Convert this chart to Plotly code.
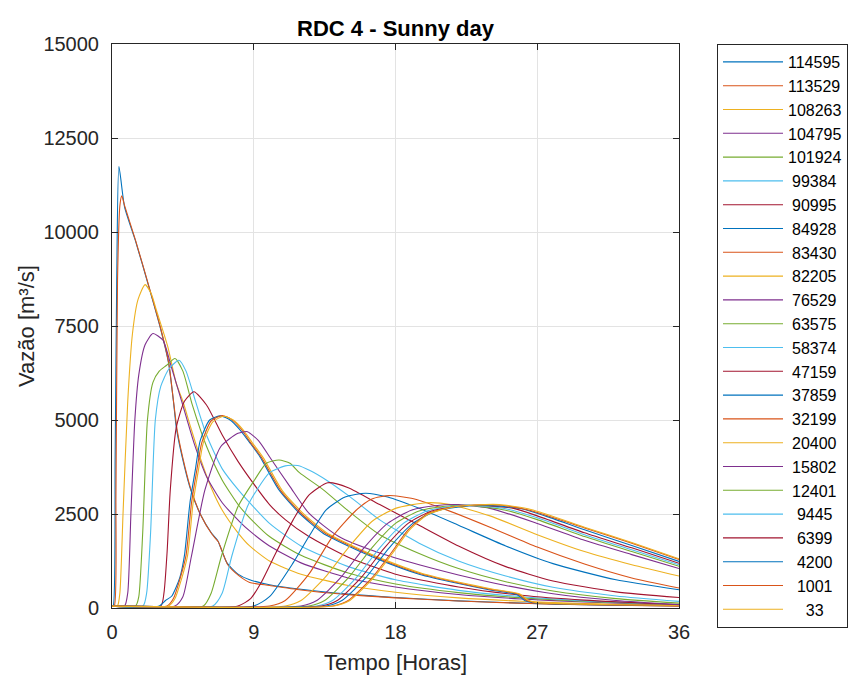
import plotly.graph_objects as go

# ---- station labels (legend order) ----
STATIONS = ["114595", "113529", "108263", "104795", "101924", "99384", "90995",
            "84928", "83430", "82205", "76529", "63575", "58374", "47159",
            "37859", "32199", "20400", "15802", "12401", "9445", "6399",
            "4200", "1001", "33"]

COLORS = ["#0072BD", "#D95319", "#EDB120", "#7E2F8E", "#77AC30", "#4DBEEE", "#A2142F"]

X_TICKS = [0, 9, 18, 27, 36]
Y_TICKS = [0, 2500, 5000, 7500, 10000, 12500, 15000]
Y_TICK_TEXT = ["0", "2500", "5000", "7500", "10000", "12500", "15000"]

# ---- hydrographs: time [h] and discharge [m3/s] ----
T_114595 = [0, 0.08, 0.2, 0.3, 0.44, 0.8, 1.5, 2.3, 3.1, 3.6, 3.9, 4.1, 4.6, 5.0, 5.6, 6.3, 6.7, 6.95, 7.3, 8.0, 8.74, 10, 12, 15, 18, 22, 26, 30, 36]
Q_114595 = [50, 60, 4000, 8700, 11740, 10660, 9750, 8600, 7400, 6500, 5500, 4750, 3760, 3140, 2500, 2000, 1800, 1550, 1200, 900, 750, 620, 500, 370, 280, 190, 130, 90, 55]

T_113529 = [0, 0.15, 0.25, 0.35, 0.5, 0.62, 0.8, 1.5, 2.3, 3.1, 3.6, 3.9, 4.15, 4.65, 5.05, 5.65, 6.35, 6.75, 7.0, 7.35, 8.05, 8.74, 10, 12, 15, 18, 22, 26, 30, 36]
Q_113529 = [50, 60, 3000, 8700, 10700, 10960, 10700, 9770, 8620, 7420, 6520, 5520, 4700, 3720, 3100, 2460, 1960, 1760, 1500, 1150, 860, 680, 600, 480, 355, 270, 185, 125, 85, 50]

T_108263 = [0, 0.35, 0.5, 0.7, 1.0, 1.3, 1.65, 2.1, 2.5, 2.82, 3.55, 4.08, 4.5, 5.0, 5.6, 6.3, 7.0, 8.0, 8.74, 10, 12, 15, 18, 22, 26, 30, 36]
Q_108263 = [50, 60, 400, 2500, 5500, 7300, 8200, 8600, 8350, 7920, 6940, 5970, 5500, 4800, 4000, 3200, 2600, 2000, 1650, 1250, 900, 600, 420, 270, 180, 120, 65]

T_104795 = [0, 0.8, 1.0, 1.2, 1.45, 1.7, 2.1, 2.6, 3.24, 3.77, 4.4, 5.2, 6.0, 7.0, 8.1, 8.74, 10, 12, 15, 18, 22, 26, 30, 36]
Q_104795 = [50, 55, 400, 2500, 5000, 6200, 7000, 7300, 7120, 6410, 5530, 4400, 3500, 2800, 2300, 2050, 1650, 1200, 800, 560, 360, 240, 160, 75]

T_101924 = [0, 1.5, 1.7, 1.95, 2.25, 2.6, 3.0, 3.45, 4.0, 4.5, 5.1, 6.0, 7.0, 8.1, 8.74, 10, 12, 15, 18, 22, 26, 30, 36]
Q_101924 = [50, 55, 300, 2000, 5000, 6000, 6300, 6450, 6635, 6300, 5400, 4300, 3400, 2700, 2400, 1900, 1400, 930, 640, 410, 270, 175, 80]

T_99384 = [0, 1.97, 2.2, 2.45, 2.75, 3.1, 3.6, 4.25, 4.7, 5.3, 6.0, 7.0, 8.1, 8.74, 10, 12, 15, 18, 22, 26, 30, 36]
Q_99384 = [50, 55, 400, 2000, 5000, 5900, 6350, 6590, 6300, 5500, 4600, 3700, 3100, 2800, 2250, 1650, 1100, 750, 470, 300, 190, 85]

T_90995 = [0, 3.1, 3.3, 3.5, 3.7, 4.08, 4.6, 5.2, 6.0, 7.0, 8.0, 9.0, 10, 11, 12.5, 15, 18, 22, 26, 30, 36]
Q_90995 = [50, 55, 400, 1500, 3140, 4800, 5500, 5750, 5400, 4600, 3900, 3300, 2750, 2350, 1900, 1350, 900, 560, 340, 210, 90]

T_84928 = [0, 3.0, 3.4, 3.8, 4.3, 4.6, 4.95, 5.3, 5.6, 6.2, 6.9, 7.5, 8.1, 8.74, 9.4, 10.6, 11.9, 13.4, 15.1, 17, 19.5, 22, 24, 25.7, 26.2, 26.7, 30, 36]
Q_84928 = [50, 55, 200, 320, 800, 1400, 2800, 3700, 4450, 5000, 5110, 5000, 4750, 4400, 4020, 3140, 2520, 1990, 1630, 1280, 900, 650, 480, 360, 200, 140, 95, 65]

T_83430 = [0, 3.5, 3.9, 4.3, 4.7, 5.05, 5.4, 5.7, 6.3, 7.0, 7.6, 8.2, 8.8, 9.5, 10.7, 12.0, 13.5, 15.2, 17.1, 19.6, 22.1, 24.1, 25.8, 26.3, 26.8, 30, 36]
Q_83430 = [50, 55, 250, 750, 1400, 2800, 3700, 4400, 4980, 5120, 5010, 4760, 4400, 4000, 3130, 2520, 2000, 1640, 1290, 910, 660, 490, 370, 205, 145, 97, 66]

T_82205 = [0, 3.6, 4.0, 4.4, 4.8, 5.15, 5.5, 5.8, 6.4, 7.1, 7.7, 8.3, 8.9, 9.6, 10.8, 12.1, 13.6, 15.3, 17.2, 19.7, 22.2, 24.2, 25.9, 26.4, 26.9, 30, 36]
Q_82205 = [50, 55, 250, 750, 1400, 2800, 3700, 4400, 4950, 5100, 5000, 4750, 4400, 4000, 3130, 2530, 2010, 1650, 1300, 920, 670, 500, 375, 210, 150, 99, 67]

T_76529 = [0, 4.0, 4.5, 5.04, 5.9, 6.9, 8.0, 8.6, 9.3, 10.0, 11.3, 12.5, 14.4, 17, 19.5, 22, 25, 28, 32, 36]
Q_76529 = [50, 55, 300, 1370, 3140, 4290, 4645, 4690, 4450, 4023, 3227, 2521, 1900, 1460, 1150, 880, 600, 380, 200, 90]

T_63575 = [0, 5.8, 6.3, 6.94, 8.0, 9.05, 9.8, 10.6, 11.3, 11.9, 13.4, 15.1, 17, 19.5, 22, 25, 28, 32, 36]
Q_63575 = [50, 55, 400, 1370, 2697, 3405, 3850, 3936, 3850, 3600, 3150, 2550, 1950, 1450, 1050, 700, 450, 250, 130]

T_58374 = [0, 6.4, 7.0, 7.6, 8.6, 9.2, 10, 11, 11.8, 12.6, 13.6, 15.1, 17, 19.5, 22, 25, 28, 32, 36]
Q_58374 = [50, 55, 400, 1370, 2697, 3140, 3600, 3780, 3790, 3650, 3405, 2962, 2343, 1725, 1250, 850, 550, 320, 175]

T_47159 = [0, 8.0, 8.8, 9.5, 10.4, 11.5, 12.5, 13.7, 15, 17, 19.5, 22, 25, 28, 32, 36]
Q_47159 = [50, 55, 250, 700, 1460, 2343, 3000, 3330, 3200, 2750, 2200, 1650, 1100, 720, 430, 280]

T_37859 = [0, 9.0, 10, 11.5, 12.5, 13.6, 14.8, 16.1, 17.5, 19.5, 22, 25, 28, 32, 36]
Q_37859 = [50, 55, 300, 1200, 1900, 2609, 2950, 3052, 2950, 2650, 2200, 1650, 1180, 750, 486]

T_32199 = [0, 10.0, 11, 12.5, 14, 15.5, 16.5, 17.6, 19, 21, 24, 27, 30, 33, 36]
Q_32199 = [50, 55, 200, 900, 1900, 2600, 2900, 2990, 2920, 2650, 2150, 1620, 1170, 800, 531]

T_20400 = [0, 11, 12, 13.5, 15, 16.5, 18, 20, 21.5, 24, 27, 30, 33, 36]
Q_20400 = [50, 55, 200, 800, 1600, 2300, 2650, 2800, 2750, 2450, 1950, 1500, 1150, 850]

T_15802 = [0, 12, 13, 14.5, 16, 17.5, 19, 20.5, 22, 24, 27, 30, 33, 36]
Q_15802 = [50, 55, 200, 800, 1600, 2250, 2600, 2720, 2750, 2650, 2250, 1800, 1420, 1050]

T_12401 = [0, 12.5, 13.5, 15, 16.5, 18, 19.5, 21, 22.7, 25, 27, 30, 33, 36]
Q_12401 = [50, 55, 200, 800, 1600, 2250, 2580, 2700, 2730, 2600, 2350, 1900, 1500, 1110]

T_9445 = [0, 13, 14, 15.5, 17, 18.5, 20, 21.5, 23, 25, 27, 30, 33, 36]
Q_9445 = [50, 55, 200, 800, 1600, 2250, 2580, 2700, 2730, 2640, 2400, 1950, 1550, 1150]

T_6399 = [0, 13.3, 14.3, 15.8, 17.3, 18.8, 20.3, 22, 23.5, 25.5, 27, 30, 33, 36]
Q_6399 = [50, 55, 200, 800, 1600, 2250, 2580, 2700, 2730, 2650, 2450, 2000, 1600, 1190]

T_4200 = [0, 13.6, 14.6, 16.1, 17.6, 19.1, 20.6, 22.3, 24, 26, 27.5, 30, 33, 36]
Q_4200 = [50, 55, 200, 800, 1600, 2250, 2580, 2700, 2730, 2640, 2450, 2080, 1660, 1240]

T_1001 = [0, 14.0, 15.0, 16.5, 17.7, 18.8, 20, 21.5, 23, 24.5, 26.5, 30, 33, 36]
Q_1001 = [50, 55, 200, 800, 1450, 2078, 2500, 2680, 2740, 2740, 2600, 2130, 1720, 1290]

T_33 = [0, 14.1, 15.1, 16.6, 17.8, 18.9, 20.1, 21.6, 23.1, 24.6, 26.6, 30, 33, 36]
Q_33 = [50, 55, 200, 800, 1450, 2078, 2500, 2680, 2740, 2750, 2620, 2150, 1740, 1310]

SERIES_T = [T_114595, T_113529, T_108263, T_104795, T_101924, T_99384, T_90995,
            T_84928, T_83430, T_82205, T_76529, T_63575, T_58374, T_47159,
            T_37859, T_32199, T_20400, T_15802, T_12401, T_9445, T_6399,
            T_4200, T_1001, T_33]
SERIES_Q = [Q_114595, Q_113529, Q_108263, Q_104795, Q_101924, Q_99384, Q_90995,
            Q_84928, Q_83430, Q_82205, Q_76529, Q_63575, Q_58374, Q_47159,
            Q_37859, Q_32199, Q_20400, Q_15802, Q_12401, Q_9445, Q_6399,
            Q_4200, Q_1001, Q_33]


def centered(label):
    pad = {6: "", 5: "\u2005", 4: "\u2007", 3: "\u2007\u2005", 2: "\u2007\u2007"}
    return pad.get(len(label), "") + label


FONT = "Liberation Sans, Arial, sans-serif"

fig = go.Figure()
for i, (name, t, q) in enumerate(zip(STATIONS, SERIES_T, SERIES_Q)):
    fig.add_trace(go.Scatter(
        x=t, y=q, mode="lines", name=centered(name),
        line=dict(color=COLORS[i % len(COLORS)], width=1.1, shape="spline", smoothing=0.6),
    ))

axis_common = dict(
    showline=True, linecolor="#262626", linewidth=1, mirror="ticks",
    ticks="inside", ticklen=6, tickcolor="#262626",
    showgrid=True, gridcolor="#e3e3e3", gridwidth=1, zeroline=False,
    tickfont=dict(family=FONT, size=20, color="#262626"),
)

fig.update_layout(
    width=851, height=677,
    margin=dict(l=112, r=172, t=44, b=69, autoexpand=False),
    paper_bgcolor="white", plot_bgcolor="white",
    title=dict(text="<b>RDC 4 - Sunny day</b>", x=0.5, xref="paper", xanchor="center",
               y=1 - 28 / 677, yref="container", yanchor="middle",
               font=dict(family=FONT, size=22, color="black")),
    xaxis=dict(range=[0, 36], tickvals=X_TICKS,
               title=dict(text="Tempo [Horas]", standoff=12,
                          font=dict(family=FONT, size=22, color="#262626")),
               ticklabelstandoff=6, **axis_common),
    yaxis=dict(range=[0, 15000], tickvals=Y_TICKS, ticktext=Y_TICK_TEXT,
               title=dict(text="Vazão [m³/s]", standoff=2,
                          font=dict(family=FONT, size=22, color="#262626")),
               ticklabelstandoff=8, **axis_common),
    legend=dict(x=(717 - 112) / 567, y=1, xanchor="left", yanchor="top",
                bordercolor="#262626", borderwidth=1, bgcolor="white",
                font=dict(family=FONT, size=16, color="black"),
                itemwidth=60, tracegroupgap=0),
    showlegend=True,
)

try:
    fig.update_layout(legend_maxheight=640)
except Exception:
    fig.update_layout(legend_font_size=15)

fig.write_html("out.html", config={"displayModeBar": False})
